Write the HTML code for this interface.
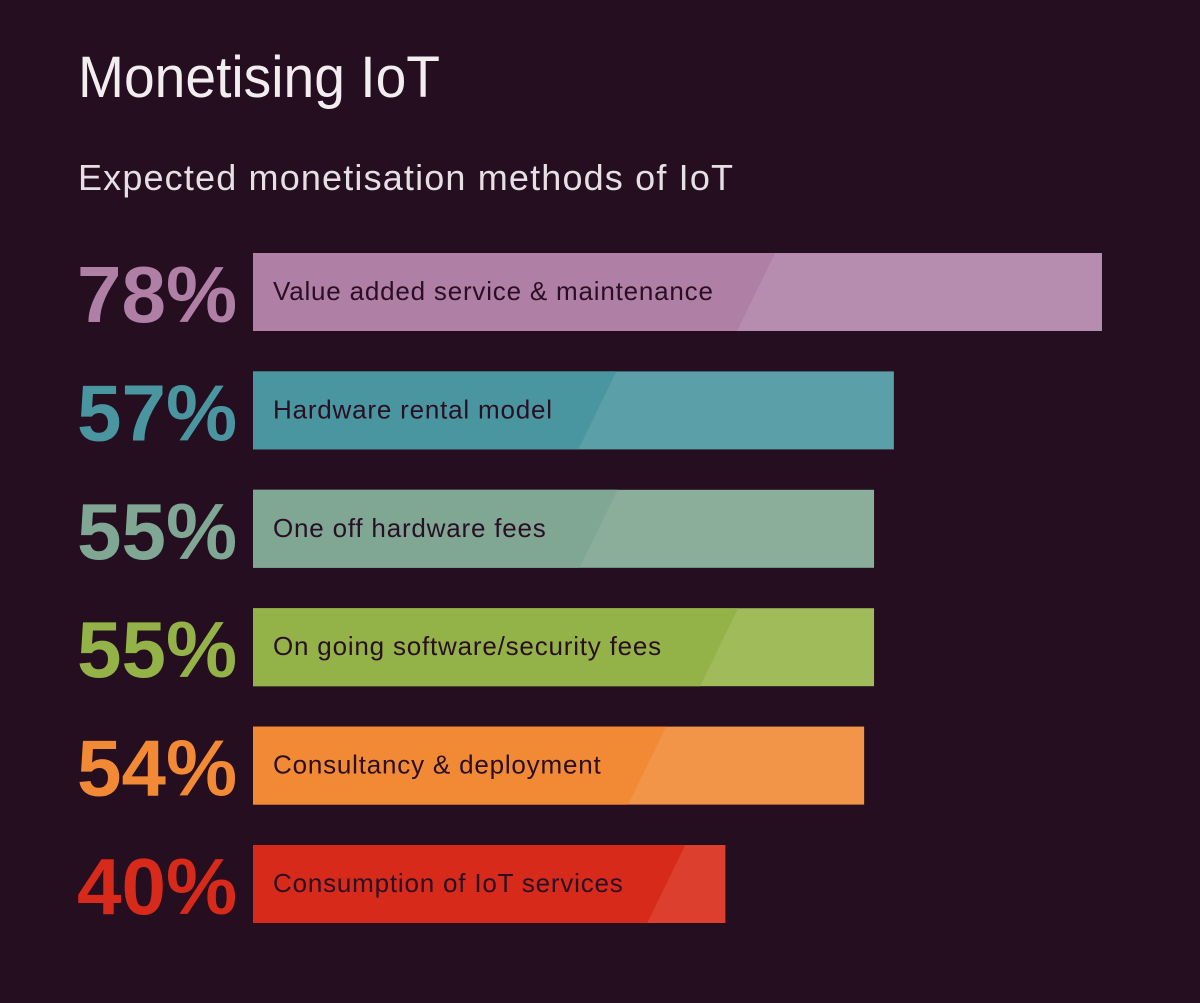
<!DOCTYPE html>
<html><head><meta charset="utf-8"><style>
body{margin:0;width:1200px;height:998px;background:#240e20;overflow:hidden;font-family:"Liberation Sans",sans-serif}
</style></head><body>
<svg width="1200" height="998">
<text x="78" y="97" font-size="58" fill="#f2eef0" textLength="362" lengthAdjust="spacingAndGlyphs">Monetising IoT</text>
<text x="78" y="190" font-size="36" fill="#e6dfe4" textLength="655" lengthAdjust="spacing">Expected monetisation methods of IoT</text>
<g id="bars"></g>
</svg>
<script>
const categories=["Value added service & maintenance","Hardware rental model","One off hardware fees","On going software/security fees","Consultancy & deployment","Consumption of IoT services"];
const values=[78,57,55,55,54,40];
const darkColors=["#b07fa6","#4a96a0","#7fa793","#93b247","#f28a35","#d82a1a"];
const lightColors=["#b68dae","#5b9fa8","#8aae9a","#a0bb5a","#f29549","#dc3f2e"];
const slantFrac=[0.615,0.567,0.587,0.781,0.676,0.915];
const NS="http://www.w3.org/2000/svg";
const g=document.getElementById('bars');
const x0=329, pxPer=9.91, barX=253, top0=253, step=118.4, bh=78;
function xScale(v){return x0+v*pxPer;}
function yScale(i){return top0+i*step;}
function el(t,a){const e=document.createElementNS(NS,t);for(const k in a)e.setAttribute(k,a[k]);return e;}
values.forEach((v,i)=>{
  const y=yScale(i), xe=xScale(v), w=xe-barX;
  const st=barX+w*slantFrac[i], sb=st-38;
  const r=el('rect',{x:barX,y:y,width:w,height:bh,fill:lightColors[i]});
  
  
  g.appendChild(r);
  const p=el('polygon',{points:`${barX},${y} ${st},${y} ${sb},${y+bh} ${barX},${y+bh}`,fill:darkColors[i]});
  
  
  g.appendChild(p);
  const t=el('text',{x:273,y:y+47,'font-size':26,fill:'#2a0f24','letter-spacing':'0.8'});
  t.textContent=categories[i];
  
  
  g.appendChild(t);
  const pt=el('text',{x:77,y:y+69,'font-size':80,fill:darkColors[i],'font-weight':'bold'});
  pt.textContent=v+'%';
  
  
  g.appendChild(pt);
});
</script>
</body></html>
